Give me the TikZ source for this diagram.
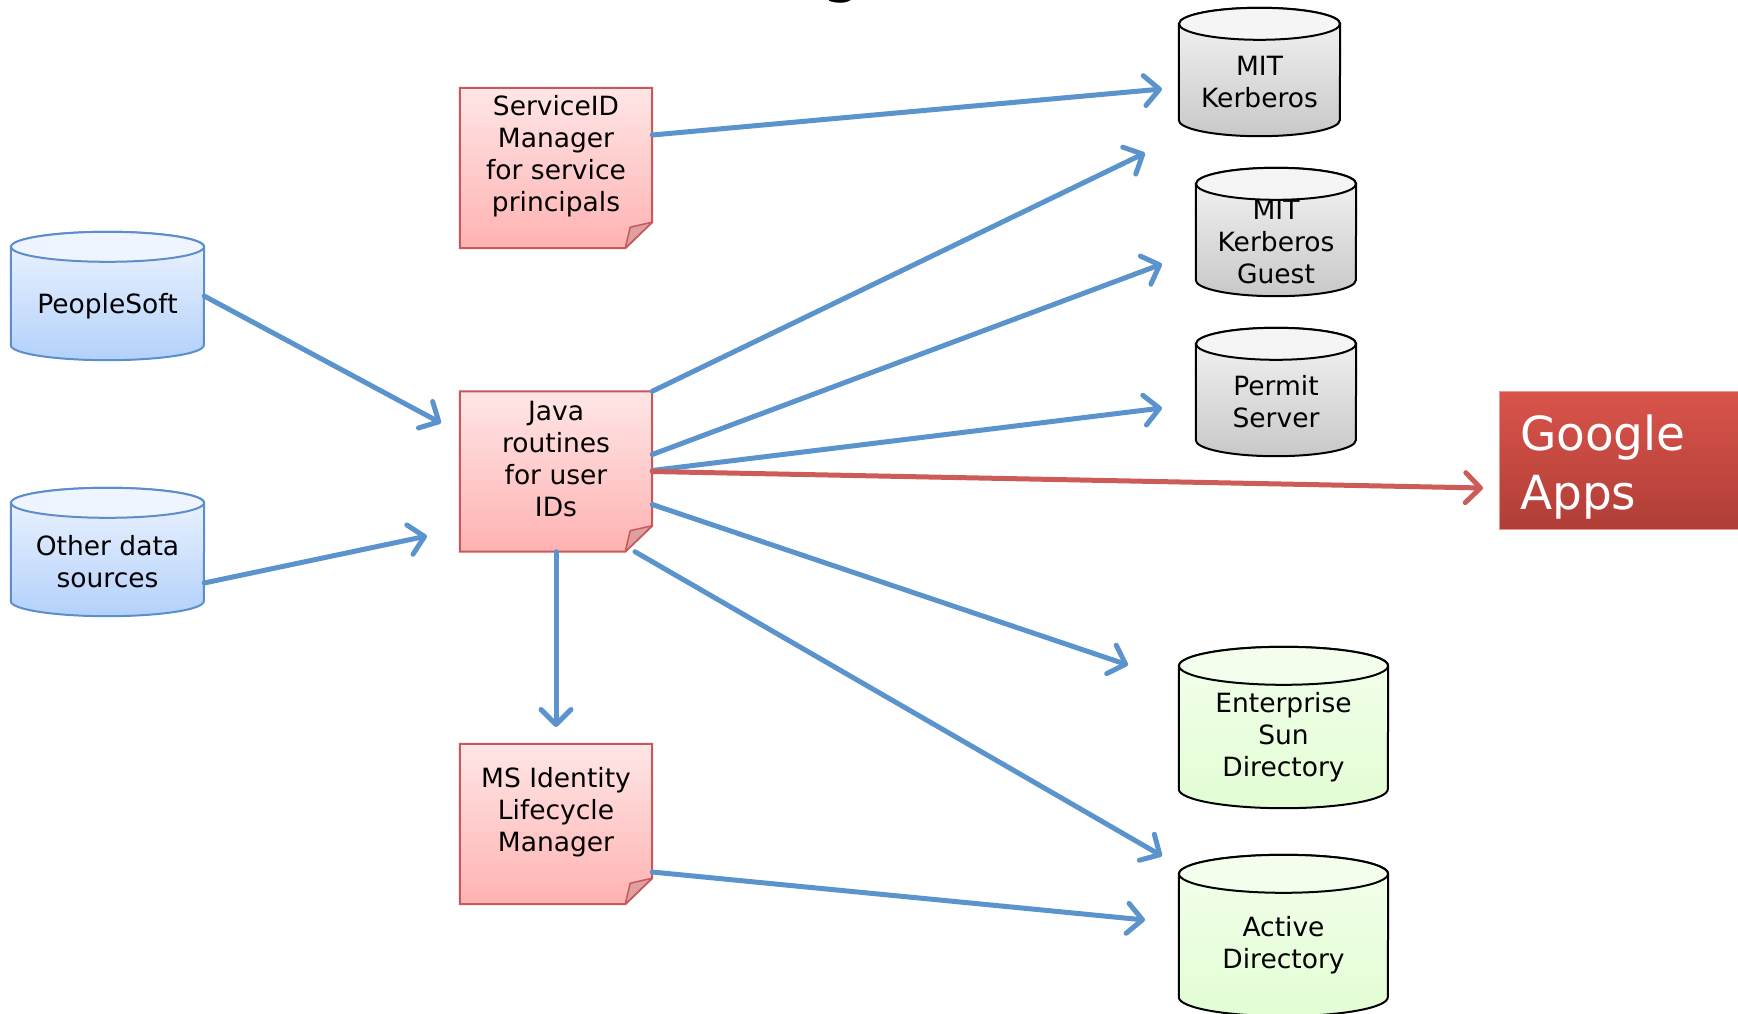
\documentclass[tikz,border=0pt]{standalone}
\usepackage{fontspec}
\setmainfont{DejaVu Sans}
\usetikzlibrary{arrows.meta,backgrounds}

\definecolor{flowblue}{HTML}{5B93CC}
\definecolor{flowred}{HTML}{CD5C58}
\definecolor{notered}{HTML}{C9585A}
\definecolor{notetop}{HTML}{FFE6E6}
\definecolor{notebot}{HTML}{FFB2B2}
\definecolor{notefold}{HTML}{DCA0A0}
\definecolor{srcline}{HTML}{5B8ECB}
\definecolor{srctop}{HTML}{EFF5FF}
\definecolor{srcbot}{HTML}{B3D1FB}
\definecolor{kerbtop}{HTML}{F5F5F5}
\definecolor{kerbbot}{HTML}{C8C8C8}
\definecolor{dirtop}{HTML}{F3FFEC}
\definecolor{dirbot}{HTML}{E2FDD3}
\definecolor{gtop}{HTML}{D9544B}
\definecolor{gbot}{HTML}{B03E37}

% sticky note outline with folded corner
\newcommand\drawnote[1]{%
  \draw[notered, line width=2pt, top color=notetop, bottom color=notebot]
    (#1.north west) -- (#1.north east) -- ([yshift=26pt]#1.south east)
    -- ([xshift=-27pt]#1.south east) -- (#1.south west) -- cycle;
  \draw[notered, line width=1.5pt, fill=notefold, line join=round]
    ([yshift=26pt]#1.south east) -- ([shift={(-22pt,21pt)}]#1.south east)
    -- ([xshift=-27pt]#1.south east) -- cycle;}

% database drum: [end radius]{node}{half width}{line}{top}{bottom}
\newcommand\drawdb[6][16pt]{%
  \draw[#4, line width=2pt, top color=#5, bottom color=#6]
    ([yshift=-#1]#2.north west) -- ([yshift=#1]#2.south west)
    arc[start angle=180, end angle=360, x radius=#3, y radius=#1]
    -- ([yshift=-#1]#2.north east)
    arc[start angle=0, end angle=180, x radius=#3, y radius=#1] -- cycle;
  \draw[#4, line width=2pt, fill=#5] ([yshift=-#1]#2.north) ellipse[x radius=#3, y radius=#1];}

\tikzset{
  txt/.style={font=\fontsize{26.5}{32}\selectfont, align=center, inner sep=0pt},
  db/.style={inner sep=0pt, minimum width=#1, minimum height=128pt},
  db/.default=160pt,
  dbtext/.style={txt, yshift=-10pt},
  note/.style={inner sep=0pt, minimum width=192pt, minimum height=160pt},
  notetext/.style={txt, yshift=12pt},
  gtext/.style={text=white, font=\fontsize{47}{59}\selectfont, align=left,
    text width=200pt, inner sep=0pt, yshift=-7pt},
  flow/.style={flowblue, line width=5pt, line cap=round,
    -{Straight Barb[round, length=15pt, width=30pt]}},
  gflow/.style={flow, flowred}
}

\begin{document}
\begin{tikzpicture}[x=1pt, y=-1pt]
\useasboundingbox (0,0) rectangle (1738,1013);

% cut-off slide title
\node[anchor=base, inner sep=0pt, font=\fontsize{66}{66}\selectfont] (title) at (842,-11) {g};

% sources
\node[db=193pt, label={[dbtext]center:PeopleSoft}] (peoplesoft) at (107.5,296) {};
\node[db=193pt, label={[dbtext]center:Other data\\sources}] (other) at (107.5,552) {};

% middle
\node[note, label={[notetext]center:ServiceID\\Manager\\for service\\principals}] (serviceid) at (556,168) {};
\node[note, label={[notetext]center:Java\\routines\\for user\\IDs}] (java) at (556,471.5) {};
\node[note, label={[notetext]center:MS Identity\\Lifecycle\\Manager}] (ilm) at (556,824) {};

% targets
\node[db=161pt, label={[dbtext]center:MIT\\Kerberos}] (kerberos) at (1259.5,72) {};
\node[db, label={[dbtext]center:MIT\\Kerberos\\Guest}] (guest) at (1276,232) {};
\node[db, label={[dbtext]center:Permit\\Server}] (permit) at (1276,392) {};
\node[db=209pt, minimum height=161pt, label={[dbtext]center:Enterprise\\Sun\\Directory}] (sun) at (1283.5,727.5) {};
\node[db=209pt, minimum height=161pt, label={[dbtext]center:Active\\Directory}] (ad) at (1283.5,935.5) {};
\node[draw=gtop!60!white, line width=1pt, top color=gtop, bottom color=gbot,
  minimum width=242pt, minimum height=138pt, label={[gtext]center:Google\\Apps}] (google) at (1620,460) {};

\begin{scope}[on background layer]
  \drawdb[15pt]{peoplesoft}{96.5pt}{srcline}{srctop}{srcbot}
  \drawdb[15pt]{other}{96.5pt}{srcline}{srctop}{srcbot}
  \drawnote{serviceid}
  \drawnote{java}
  \drawnote{ilm}
  \drawdb{kerberos}{80.5pt}{black}{kerbtop}{kerbbot}
  \drawdb{guest}{80pt}{black}{kerbtop}{kerbbot}
  \drawdb{permit}{80pt}{black}{kerbtop}{kerbbot}
  \drawdb[19pt]{sun}{104.5pt}{black}{dirtop}{dirbot}
  \drawdb[19pt]{ad}{104.5pt}{black}{dirtop}{dirbot}
\end{scope}

% arrow ends
\coordinate (psIn) at (441,423);
\coordinate (otherIn) at (427,536);
\coordinate (kerbIn) at (1162,89);
\coordinate (kerbIn2) at (1145,153);
\coordinate (guestIn) at (1162,264);
\coordinate (permitIn) at (1162,408);
\coordinate (googleIn) at (1483,488);
\coordinate (sunIn) at (1128,665);
\coordinate (adIn) at (1162,856);
\coordinate (ilmIn) at (556,727);
\coordinate (adIn2) at (1145,920);

\draw[flow] (peoplesoft.east) -- (psIn);
\draw[flow] ([yshift=-31pt]other.east) -- (otherIn);
\draw[flow] ([yshift=33pt]serviceid.east) -- (kerbIn);
\draw[flow] (java.north east) -- (kerbIn2);
\draw[flow] ([yshift=17pt]java.east) -- (guestIn);
\draw[flow] ([yshift=1pt]java.east) -- (permitIn);
\draw[gflow] (java.east) -- (googleIn);
\draw[flow] ([yshift=-33pt]java.east) -- (sunIn);
\draw[flow] ([xshift=79pt]java.south) -- (adIn);
\draw[flow] (java.south) -- (ilmIn);
\draw[flow] ([yshift=-48pt]ilm.east) -- (adIn2);
\end{tikzpicture}
\end{document}
